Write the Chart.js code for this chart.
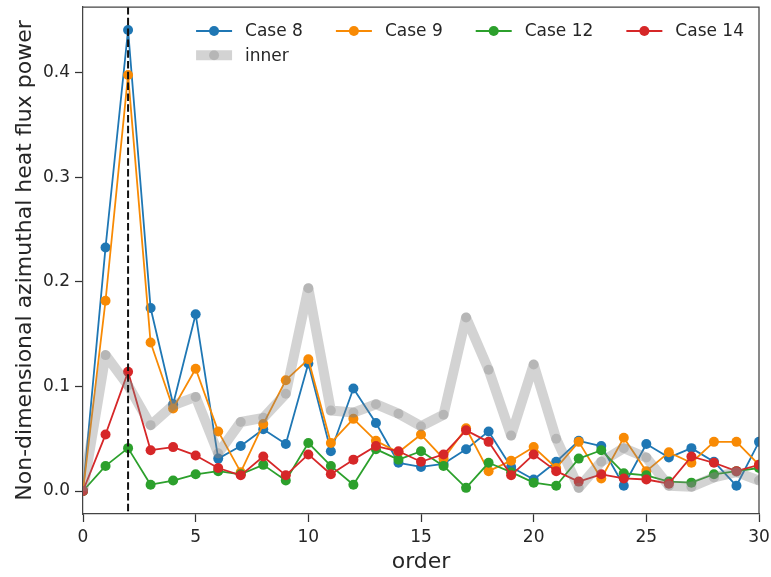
<!DOCTYPE html>
<html>
<head>
<meta charset="utf-8">
<script src="https://cdn.jsdelivr.net/npm/chart.js@4.4.1/dist/chart.umd.min.js"></script>
<style>
  html, body { margin: 0; padding: 0; background: #fff; }
</style>
</head>
<body>
<canvas id="myChart" width="771" height="577"></canvas>
<script>
// azimuthal orders 0..30
const orders = [0, 1, 2, 3, 4, 5, 6, 7, 8, 9, 10, 11, 12, 13, 14, 15, 16, 17, 18, 19, 20, 21, 22, 23, 24, 25, 26, 27, 28, 29, 30];

const case8 = [0, 0.233, 0.441, 0.175, 0.083, 0.169, 0.031, 0.043, 0.059, 0.045, 0.122, 0.038, 0.098, 0.065, 0.027, 0.023,
    0.026, 0.040, 0.057, 0.023, 0.011, 0.028, 0.048, 0.043, 0.005, 0.045, 0.032, 0.041, 0.028, 0.005, 0.047];
const case9 = [0, 0.182, 0.398, 0.142, 0.079, 0.117, 0.057, 0.018, 0.064, 0.106, 0.126, 0.046, 0.069, 0.048, 0.037, 0.054,
    0.031, 0.060, 0.019, 0.029, 0.042, 0.022, 0.047, 0.012, 0.051, 0.019, 0.037, 0.027, 0.047, 0.047, 0.025];
const case12 = [0, 0.024, 0.041, 0.006, 0.010, 0.016, 0.019, 0.016, 0.025, 0.010, 0.046, 0.024, 0.006, 0.040, 0.030, 0.038,
    0.024, 0.003, 0.027, 0.018, 0.008, 0.005, 0.031, 0.039, 0.017, 0.015, 0.009, 0.008, 0.016, 0.019, 0.022];
const case14 = [0, 0.054, 0.114, 0.039, 0.042, 0.034, 0.022, 0.015, 0.033, 0.015, 0.035, 0.016, 0.030, 0.043, 0.038, 0.028,
    0.035, 0.058, 0.047, 0.015, 0.035, 0.019, 0.009, 0.016, 0.012, 0.011, 0.007, 0.033, 0.027, 0.019, 0.025];
const inner = [0, 0.130, 0.101, 0.063, 0.082, 0.090, 0.036, 0.066, 0.070, 0.093, 0.194, 0.077, 0.075, 0.083, 0.074, 0.062,
    0.073, 0.166, 0.116, 0.053, 0.121, 0.050, 0.003, 0.028, 0.041, 0.032, 0.005, 0.004, 0.013, 0.018, 0.010];

const xTicks = [0, 5, 10, 15, 20, 25, 30];
const yTicks = [0, 0.1, 0.2, 0.3, 0.4];
const peakOrder = 2;

const FONT = 'DejaVu Sans';
const TEXT = '#262626';

function pts(vals) {
    return orders.map((o, i) => ({ x: o, y: vals[i] }));
}

function lineSet(label, vals, color, order) {
    return {
        label: label,
        data: pts(vals),
        showLine: true,
        borderColor: color,
        backgroundColor: color,
        pointBackgroundColor: color,
        pointBorderWidth: 0,
        pointRadius: 5,
        borderWidth: 1.8,
        borderJoinStyle: 'round',
        tension: 0,
        order: order
    };
}

// dashed marker at the dominant order + top/right spines
const extras = {
    id: 'extras',
    afterDatasetsDraw(chart) {
        const { ctx, chartArea, scales } = chart;
        const x = scales.x.getPixelForValue(peakOrder);
        ctx.save();
        ctx.strokeStyle = '#111';
        ctx.lineWidth = 2;
        ctx.setLineDash([7.5, 3.3]);
        ctx.beginPath();
        ctx.moveTo(x, chartArea.top);
        ctx.lineTo(x, chartArea.bottom);
        ctx.stroke();
        ctx.restore();
    },
    afterDraw(chart) {
        const { ctx, chartArea } = chart;
        ctx.save();
        ctx.strokeStyle = '#444';
        ctx.lineWidth = 1.25;
        ctx.beginPath();
        ctx.moveTo(chartArea.left, chartArea.top);
        ctx.lineTo(chartArea.right, chartArea.top);
        ctx.lineTo(chartArea.right, chartArea.bottom);
        ctx.stroke();
        ctx.restore();
    }
};

// legend in 4 columns, upper right, no frame
const legendCols = {
    id: 'legendCols',
    afterDraw(chart) {
        const { ctx, chartArea } = chart;
        const sets = chart.data.datasets;
        const ncol = 4, handleLen = 36, handlePad = 13, colSpace = 33;
        ctx.save();
        ctx.font = '17px "' + FONT + '"';
        const colW = [0, 0, 0, 0];
        sets.forEach((d, i) => {
            colW[i % ncol] = Math.max(colW[i % ncol], ctx.measureText(d.label).width);
        });
        let total = colSpace * (ncol - 1);
        for (let c = 0; c < ncol; c++) total += handleLen + handlePad + colW[c];
        const x0 = chartArea.right - 15 - total;
        const colX = [];
        let cx = x0;
        for (let c = 0; c < ncol; c++) {
            colX.push(cx);
            cx += handleLen + handlePad + colW[c] + colSpace;
        }
        sets.forEach((d, i) => {
            const c = i % ncol;
            const y = chartArea.top + 24 + Math.floor(i / ncol) * 24.3;
            const lx = colX[c];
            ctx.strokeStyle = d.borderColor;
            ctx.lineWidth = d.borderWidth;
            ctx.beginPath();
            ctx.moveTo(lx, y);
            ctx.lineTo(lx + handleLen, y);
            ctx.stroke();
            ctx.fillStyle = d.pointBackgroundColor;
            ctx.beginPath();
            ctx.arc(lx + handleLen / 2, y, d.pointRadius, 0, Math.PI * 2);
            ctx.fill();
            ctx.fillStyle = TEXT;
            ctx.textBaseline = 'middle';
            ctx.textAlign = 'left';
            ctx.fillText(d.label, lx + handleLen + handlePad, y + 1);
        });
        ctx.restore();
    }
};

function noPad(scale) {
    scale.paddingTop = 0;
    scale.paddingBottom = 0;
    scale.paddingLeft = 0;
    scale.paddingRight = 0;
}

const ctx = document.getElementById('myChart');
const innerSet = lineSet('inner', inner, 'rgba(128, 128, 128, 0.35)', 1);
innerSet.borderWidth = 10;

new Chart(ctx, {
    type: 'scatter',
    data: {
        datasets: [
            lineSet('Case 8', case8, '#1f77b4', 5),
            lineSet('Case 9', case9, '#f88a04', 4),
            lineSet('Case 12', case12, '#2ca02c', 3),
            lineSet('Case 14', case14, '#d62728', 2),
            innerSet
        ]
    },
    options: {
        responsive: false,
        animation: false,
        devicePixelRatio: 1,
        layout: { padding: { top: 7, right: 12, left: 0, bottom: 0 } },
        plugins: {
            legend: { display: false },
            tooltip: { enabled: false }
        },
        scales: {
            x: {
                type: 'linear',
                min: 0,
                max: 30,
                afterBuildTicks: (scale) => { scale.ticks = xTicks.map(v => ({ value: v })); },
                afterFit: (scale) => { scale.height = 63; noPad(scale); },
                ticks: {
                    font: { family: FONT, size: 17 },
                    color: TEXT,
                    padding: 5,
                    maxRotation: 0,
                    autoSkip: false
                },
                grid: {
                    drawOnChartArea: false,
                    drawTicks: true,
                    tickLength: 8,
                    tickWidth: 1.25,
                    tickColor: '#333'
                },
                border: { display: true, color: '#444', width: 1.25 },
                title: {
                    display: true,
                    text: 'order',
                    color: TEXT,
                    font: { family: FONT, size: 22 },
                    padding: { top: 0, bottom: 2 }
                }
            },
            y: {
                min: -0.022,
                max: 0.463,
                afterBuildTicks: (scale) => { scale.ticks = yTicks.map(v => ({ value: v })); },
                afterFit: (scale) => { scale.width = 83; noPad(scale); },
                ticks: {
                    font: { family: FONT, size: 17 },
                    color: TEXT,
                    padding: 5,
                    callback: (v) => v.toFixed(1)
                },
                grid: {
                    drawOnChartArea: false,
                    drawTicks: true,
                    tickLength: 8,
                    tickWidth: 1.25,
                    tickColor: '#333'
                },
                border: { display: true, color: '#444', width: 1.25 },
                title: {
                    display: true,
                    text: 'Non-dimensional azimuthal heat flux power',
                    color: TEXT,
                    font: { family: FONT, size: 22 },
                    padding: { top: 12, bottom: 0 }
                }
            }
        }
    },
    plugins: [extras, legendCols]
});
</script>
</body>
</html>
